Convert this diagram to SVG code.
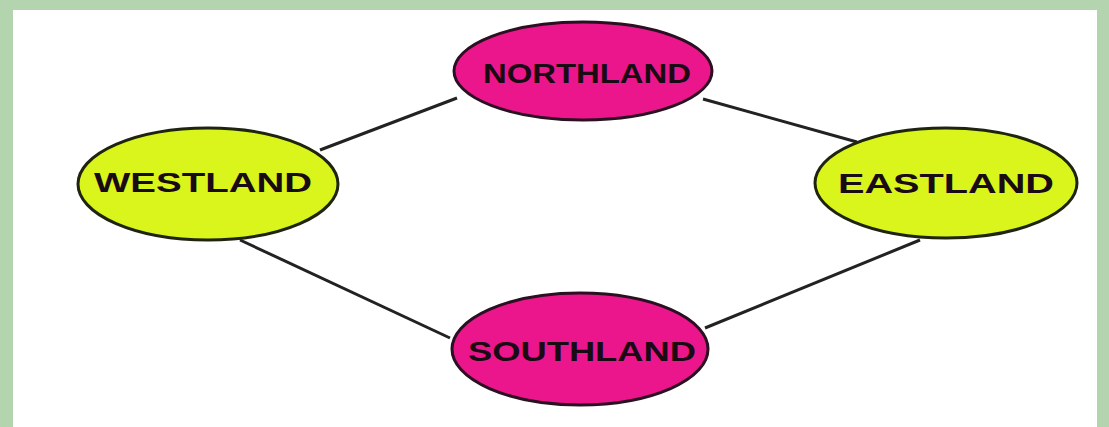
<svg xmlns="http://www.w3.org/2000/svg" width="1109" height="427" viewBox="0 0 1109 427">
<style>
.pink{fill:#ec168c;stroke:#2a1020;stroke-width:3}
.lime{fill:#d9f51c;stroke:#1e2410;stroke-width:3}
.lbl{font-family:"Liberation Sans",Arial,sans-serif;font-weight:bold;font-size:27px;fill:#1a0a14;text-anchor:middle;dominant-baseline:central}
.edge{stroke:#222;stroke-width:3;fill:none}
</style>
<rect x="0" y="0" width="1109" height="427" fill="#b3d4ae"/>
<rect x="13" y="10" width="1084" height="417" fill="#ffffff"/>
<g id="connectors">
<line class="edge" x1="320" y1="150" x2="457" y2="98"/>
<line class="edge" x1="703" y1="99" x2="857" y2="142"/>
<line class="edge" x1="240" y1="240" x2="450" y2="338"/>
<line class="edge" x1="920" y1="240" x2="705" y2="328"/>
</g>
<g id="northland">
<ellipse class="pink" cx="583" cy="71" rx="129" ry="49"/>
<text class="lbl" x="587" y="74" textLength="208" lengthAdjust="spacingAndGlyphs">NORTHLAND</text>
</g>
<g id="westland">
<ellipse class="lime" cx="208" cy="184" rx="130" ry="56"/>
<text class="lbl" x="203" y="183" textLength="218" lengthAdjust="spacingAndGlyphs">WESTLAND</text>
</g>
<g id="eastland">
<ellipse class="lime" cx="946" cy="183" rx="131" ry="55"/>
<text class="lbl" x="946" y="184" textLength="216" lengthAdjust="spacingAndGlyphs">EASTLAND</text>
</g>
<g id="southland">
<ellipse class="pink" cx="580" cy="349" rx="128" ry="56"/>
<text class="lbl" x="582" y="352" textLength="228" lengthAdjust="spacingAndGlyphs">SOUTHLAND</text>
</g>
</svg>
